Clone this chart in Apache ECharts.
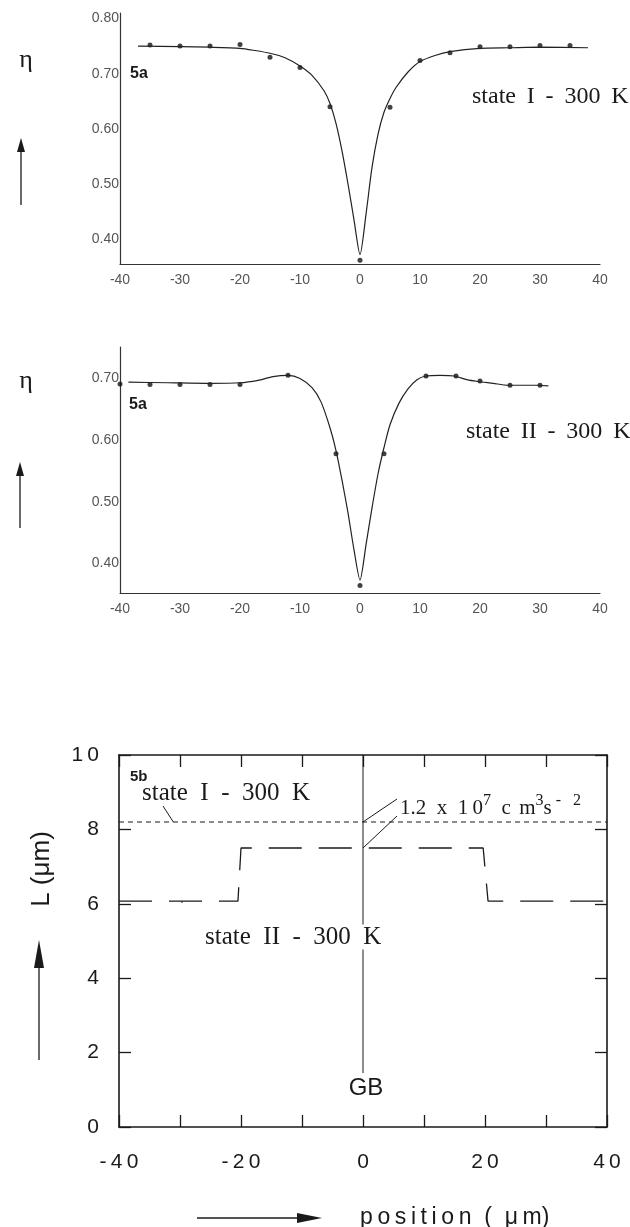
<!DOCTYPE html>
<html>
<head>
<meta charset="utf-8">
<script src="https://cdn.jsdelivr.net/npm/echarts@6/dist/echarts.min.js"></script>
<style>
  html, body { margin: 0; background: #fff; }
  #main { width: 630px; height: 1227px; }
</style>
</head>
<body>
<div id="main"></div>
<script>
// 5a, state I : measured eta and the fitted curve through them
var pos1 = [-35, -30, -25, -20, -15, -10, -5, 0, 5, 10, 15, 20, 25, 30, 35];
var eta1 = [0.752, 0.750, 0.750, 0.753, 0.730, 0.711, 0.640, 0.362, 0.639, 0.724, 0.738, 0.749, 0.749, 0.751, 0.751];
var fitPos1 = [-37, -30, -25, -20, -17.5, -15, -12.5, -10, -8, -6, -5, -4, -3, -2, -1, 0, 1, 2, 3, 4, 5, 6, 8, 10, 12.5, 15, 20, 25, 30, 38];
var fitEta1 = [0.750, 0.749, 0.748, 0.746, 0.742, 0.737, 0.729, 0.714, 0.697, 0.669, 0.646, 0.610, 0.560, 0.500, 0.435, 0.372, 0.445, 0.530, 0.590, 0.630, 0.655, 0.675, 0.703, 0.722, 0.733, 0.740, 0.746, 0.747, 0.748, 0.747];

// 5a, state II
var pos2 = [-40, -35, -30, -25, -20, -12, -4, 0, 4, 11, 16, 20, 25, 30];
var eta2 = [0.691, 0.690, 0.690, 0.690, 0.690, 0.705, 0.578, 0.364, 0.578, 0.704, 0.704, 0.696, 0.689, 0.689];
var fitPos2 = [-38.6, -32, -25, -20, -17, -14.5, -12, -10, -8, -6.5, -5, -4, -3, -2, -1, 0, 1, 2, 3, 4, 5, 6.5, 8, 9.5, 11, 13.3, 15.7, 17.8, 19.6, 22.2, 24.6, 29.6, 31.4];
var fitEta2 = [0.694, 0.693, 0.692, 0.693, 0.697, 0.703, 0.705, 0.700, 0.685, 0.662, 0.620, 0.583, 0.535, 0.482, 0.422, 0.373, 0.430, 0.490, 0.545, 0.588, 0.625, 0.660, 0.683, 0.698, 0.704, 0.705, 0.704, 0.698, 0.695, 0.692, 0.689, 0.689, 0.688];

var etaTicks = [0.4, 0.5, 0.6, 0.7, 0.8];

// 5b : diffusion length L
var lenIPos = [-40, 40];
var lenI = [8.2, 8.2];
var lenIIPos = [-40, -20.5, -20, 19.7, 20.5, 40];
var lenII = [6.07, 6.07, 7.5, 7.5, 6.07, 6.07];
var gbPos = [0, 0];
var gbL = [10, 1.45];

function zip(a, b) {
    return a.map(function (v, i) { return [v, b[i]]; });
}
function spaced(s) {
    return String(s).split('').join('\u2009');
}

var ink = '#1a1a1a';
var serif = 'Liberation Serif';

var etaAxis = function (min, max, gi) {
    return {
        type: 'value', gridIndex: gi, min: min, max: max,
        splitLine: { show: false },
        axisTick: { show: false },
        axisLine: { show: true, onZero: false, lineStyle: { color: '#333', width: 1.2 } },
        axisLabel: {
            customValues: etaTicks, margin: 1, fontSize: 14, color: '#555',
            formatter: function (v) { return v.toFixed(2); }
        }
    };
};
var posAxis = function (gi) {
    return {
        type: 'value', gridIndex: gi, min: -40, max: 40, interval: 10,
        splitLine: { show: false },
        axisTick: { show: false },
        axisLine: { onZero: false, lineStyle: { color: '#333', width: 1.2 } },
        axisLabel: { margin: 9, fontSize: 14, color: '#555' }
    };
};
var frame = { show: true, onZero: false, lineStyle: { color: ink, width: 1.6 } };
var inTick = { show: true, inside: true, length: 12, lineStyle: { color: ink, width: 1.3 } };

var chart = echarts.init(document.getElementById('main'));

var option = {
    animation: false,
    backgroundColor: '#fff',
    textStyle: { fontFamily: 'Liberation Sans' },
    grid: [
        { left: 120, right: 30, top: 13, height: 251 },
        { left: 120, right: 30, top: 347, height: 246 },
        { left: 119, right: 23, top: 755, height: 372 }
    ],
    xAxis: [
        posAxis(0),
        posAxis(1),
        {
            type: 'value', gridIndex: 2, min: -40, max: 40, interval: 10,
            splitLine: { show: false }, axisLine: frame, axisTick: inTick,
            axisLabel: {
                margin: 25, fontSize: 21, color: ink,
                formatter: function (v) { return v % 20 === 0 ? spaced(v) : ''; }
            }
        },
        {
            type: 'value', gridIndex: 2, position: 'top', min: -40, max: 40, interval: 10,
            splitLine: { show: false }, axisLine: frame, axisTick: inTick, axisLabel: { show: false }
        }
    ],
    yAxis: [
        etaAxis(0.355, 0.81, 0),
        etaAxis(0.352, 0.751, 1),
        {
            type: 'value', gridIndex: 2, min: 0, max: 10, interval: 2,
            splitLine: { show: false }, axisLine: frame, axisTick: inTick,
            axisLabel: { margin: 20, fontSize: 21, color: ink, formatter: function (v) { return spaced(v); } }
        },
        {
            type: 'value', gridIndex: 2, position: 'right', min: 0, max: 10, interval: 2,
            splitLine: { show: false }, axisLine: frame, axisTick: inTick, axisLabel: { show: false }
        }
    ],
    series: [
        {
            type: 'line', xAxisIndex: 0, yAxisIndex: 0, data: zip(fitPos1, fitEta1),
            smooth: 0.25, symbol: 'none',
            lineStyle: { color: '#222', width: 1.2 }
        },
        {
            type: 'scatter', xAxisIndex: 0, yAxisIndex: 0, data: zip(pos1, eta1),
            symbolSize: 5, itemStyle: { color: '#111' }
        },
        {
            type: 'line', xAxisIndex: 1, yAxisIndex: 1, data: zip(fitPos2, fitEta2),
            smooth: 0.25, symbol: 'none',
            lineStyle: { color: '#222', width: 1.2 }
        },
        {
            type: 'scatter', xAxisIndex: 1, yAxisIndex: 1, data: zip(pos2, eta2),
            symbolSize: 5, itemStyle: { color: '#111' }
        },
        {
            type: 'line', xAxisIndex: 2, yAxisIndex: 2, data: zip(lenIPos, lenI),
            symbol: 'none', lineStyle: { color: ink, width: 1.1, type: [5, 4] }
        },
        {
            type: 'line', xAxisIndex: 2, yAxisIndex: 2, data: zip(lenIIPos, lenII),
            symbol: 'none', lineStyle: { color: ink, width: 1.3, type: [33, 17] }
        },
        {
            type: 'line', xAxisIndex: 2, yAxisIndex: 2, data: zip(gbPos, gbL),
            symbol: 'none', lineStyle: { color: ink, width: 1 }
        }
    ]
};
chart.setOption(option);

// annotation leader lines end on the curves
function px(x, y) { return chart.convertToPixel({ seriesIndex: 4 }, [x, y]); }
var pI = px(-31.1, lenI[0]);
var pII = px(-29.7, lenII[0]);
var gI = px(0, lenI[0]);
var gII = px(0, lenII[2]);

function txt(x, y, s, size, extra) {
    var st = { text: s, x: x, y: y, fill: ink, fontSize: size, fontFamily: 'Liberation Sans',
               textVerticalAlign: 'middle', textAlign: 'left' };
    for (var k in extra) st[k] = extra[k];
    return { type: 'text', z: 100, style: st };
}
function seg(x1, y1, x2, y2, w) {
    return { type: 'line', z: 100, shape: { x1: x1, y1: y1, x2: x2, y2: y2 },
             style: { stroke: ink, lineWidth: w || 1 } };
}
function head(points) {
    return { type: 'polygon', z: 100, shape: { points: points }, style: { fill: ink } };
}
var sep = ' \u2009';

chart.setOption({
    graphic: [
        // 5a, state I
        txt(26, 60, '\u03b7', 26, { fontFamily: serif, textAlign: 'center' }),
        seg(21, 205, 21, 150, 1.3),
        head([[21, 138], [17, 152], [25, 152]]),
        txt(130, 74, '5a', 16, { fontWeight: 'bold' }),
        txt(472, 97, ['state', 'I', '-', '300', 'K'].join(sep), 24, { fontFamily: serif }),
        // 5a, state II
        txt(26, 381, '\u03b7', 26, { fontFamily: serif, textAlign: 'center' }),
        seg(20, 528, 20, 474, 1.3),
        head([[20, 462], [16, 476], [24, 476]]),
        txt(129, 405, '5a', 16, { fontWeight: 'bold' }),
        txt(466, 432, ['state', 'II', '-', '300', 'K'].join(sep), 24, { fontFamily: serif }),
        // 5b
        txt(130, 777, '5b', 15, { fontWeight: 'bold' }),
        txt(142, 793, 'state  I  -  300  K', 25, { fontFamily: serif }),
        seg(163, 806, pI[0], pI[1]),
        txt(203, 937, 'state  II  -  300  K', 25, { fontFamily: serif, backgroundColor: '#fff', padding: [0, 2] }),
        seg(182, 903, pII[0], pII[1]),
        {
            type: 'text', z: 100,
            style: {
                x: 400, y: 808, textVerticalAlign: 'middle',
                text: '{a|1.2  x  1\u20090}{s|7}{a|  c\u2009\u2009m}{s|3}{a|s}{s| -   2}',
                rich: {
                    a: { fontFamily: serif, fontSize: 21, lineHeight: 30, fill: ink },
                    s: { fontFamily: serif, fontSize: 16, verticalAlign: 'top', fill: ink }
                }
            }
        },
        seg(397, 799, gI[0], gI[1]),
        seg(397, 816, gII[0], gII[1]),
        txt(366, 1088, 'GB', 24, { textAlign: 'center' }),
        {
            type: 'text', z: 100, x: 42, y: 869, rotation: Math.PI / 2,
            style: { text: 'L (\u03bcm)', fontSize: 26, fill: ink, fontFamily: 'Liberation Sans',
                     textAlign: 'center', textVerticalAlign: 'middle' }
        },
        seg(39, 1060, 39, 960, 1.3),
        head([[39, 940], [34, 968], [44, 968]]),
        seg(197, 1218, 300, 1218, 1.3),
        head([[322, 1218], [297, 1213], [297, 1223]]),
        txt(360, 1218, spaced('position') + '  (  \u03bc\u2009m)', 23)
    ]
});
</script>
</body>
</html>
